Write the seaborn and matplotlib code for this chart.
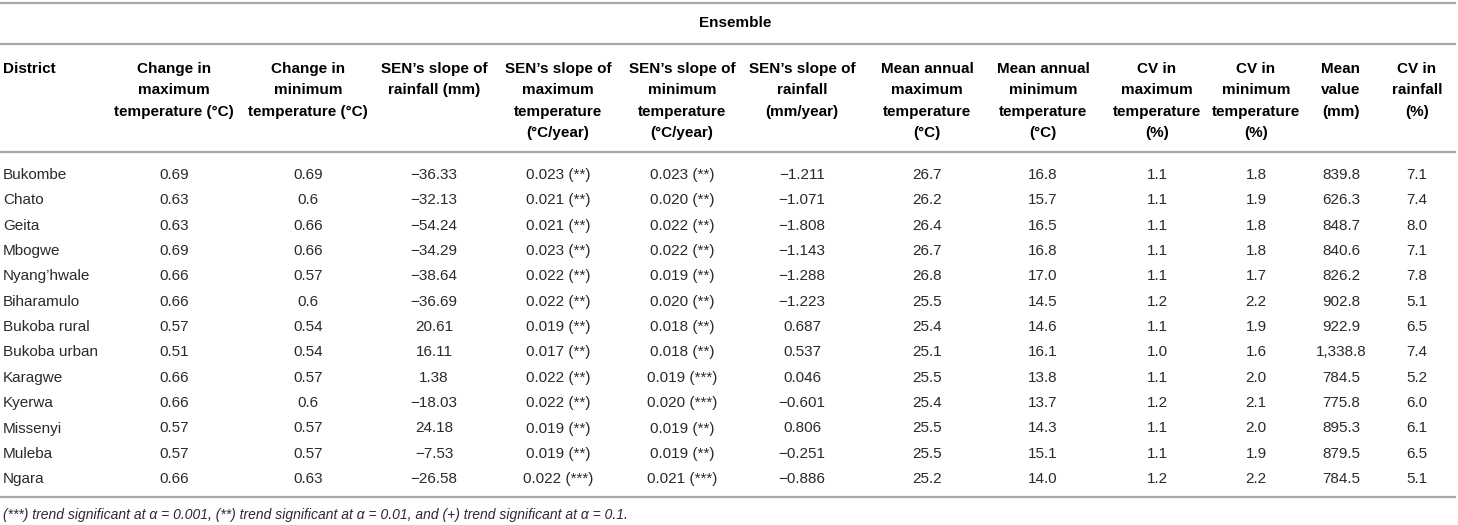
import matplotlib
matplotlib.use("Agg")
import matplotlib.pyplot as plt
import seaborn as sns

# table values
districts = ["Bukombe", "Chato", "Geita", "Mbogwe", "Nyang\u2019hwale", "Biharamulo",
             "Bukoba rural", "Bukoba urban", "Karagwe", "Kyerwa", "Missenyi", "Muleba", "Ngara"]
chg_max = [0.69, 0.63, 0.63, 0.69, 0.66, 0.66, 0.57, 0.51, 0.66, 0.66, 0.57, 0.57, 0.66]
chg_min = [0.69, 0.6, 0.66, 0.66, 0.57, 0.6, 0.54, 0.54, 0.57, 0.6, 0.57, 0.57, 0.63]
sen_rain = [-36.33, -32.13, -54.24, -34.29, -38.64, -36.69, 20.61, 16.11, 1.38, -18.03, 24.18, -7.53, -26.58]
sen_max = [0.023, 0.021, 0.021, 0.023, 0.022, 0.022, 0.019, 0.017, 0.022, 0.022, 0.019, 0.019, 0.022]
sig_max = ["**"] * 12 + ["***"]
sen_min = [0.023, 0.020, 0.022, 0.022, 0.019, 0.020, 0.018, 0.018, 0.019, 0.020, 0.019, 0.019, 0.021]
sig_min = ["**"] * 8 + ["***", "***", "**", "**", "***"]
sen_rain_yr = [-1.211, -1.071, -1.808, -1.143, -1.288, -1.223, 0.687, 0.537, 0.046, -0.601, 0.806, -0.251, -0.886]
mean_max = [26.7, 26.2, 26.4, 26.7, 26.8, 25.5, 25.4, 25.1, 25.5, 25.4, 25.5, 25.5, 25.2]
mean_min = [16.8, 15.7, 16.5, 16.8, 17.0, 14.5, 14.6, 16.1, 13.8, 13.7, 14.3, 15.1, 14.0]
cv_max = [1.1, 1.1, 1.1, 1.1, 1.1, 1.2, 1.1, 1.0, 1.1, 1.2, 1.1, 1.1, 1.2]
cv_min = [1.8, 1.9, 1.8, 1.8, 1.7, 2.2, 1.9, 1.6, 2.0, 2.1, 2.0, 1.9, 2.2]
mean_rain = [839.8, 626.3, 848.7, 840.6, 826.2, 902.8, 922.9, 1338.8, 784.5, 775.8, 895.3, 879.5, 784.5]
cv_rain = [7.1, 7.4, 8.0, 7.1, 7.8, 5.1, 6.5, 7.4, 5.2, 6.0, 6.1, 6.5, 5.1]

headers = [
    "District",
    "Change in\nmaximum\ntemperature (\u00b0C)",
    "Change in\nminimum\ntemperature (\u00b0C)",
    "SEN\u2019s slope of\nrainfall (mm)",
    "SEN\u2019s slope of\nmaximum\ntemperature\n(\u00b0C/year)",
    "SEN\u2019s slope of\nminimum\ntemperature\n(\u00b0C/year)",
    "SEN\u2019s slope of\nrainfall\n(mm/year)",
    "Mean annual\nmaximum\ntemperature\n(\u00b0C)",
    "Mean annual\nminimum\ntemperature\n(\u00b0C)",
    "CV in\nmaximum\ntemperature\n(%)",
    "CV in\nminimum\ntemperature\n(%)",
    "Mean\nvalue\n(mm)",
    "CV in\nrainfall\n(%)",
]
footnote = ("(***) trend significant at \u03b1 = 0.001, (**) trend significant at \u03b1 = 0.01, "
            "and (+) trend significant at \u03b1 = 0.1.")


def minus(s):
    return s.replace("-", "\u2212")


columns = [
    districts,
    [f"{v:g}" for v in chg_max],
    [f"{v:g}" for v in chg_min],
    [minus(f"{v:.2f}") for v in sen_rain],
    [f"{v:.3f} ({s})" for v, s in zip(sen_max, sig_max)],
    [f"{v:.3f} ({s})" for v, s in zip(sen_min, sig_min)],
    [minus(f"{v:.3f}") for v in sen_rain_yr],
    [f"{v:.1f}" for v in mean_max],
    [f"{v:.1f}" for v in mean_min],
    [f"{v:.1f}" for v in cv_max],
    [f"{v:.1f}" for v in cv_min],
    [f"{v:,.1f}" for v in mean_rain],
    [f"{v:.1f}" for v in cv_rain],
]

sns.set_style("white")
plt.rcParams["font.family"] = ["Liberation Sans", "DejaVu Sans"]

fig = plt.figure(figsize=(14.58, 5.25), dpi=100)
ax = fig.add_axes([0, 0, 1, 1])
ax.set_xlim(0, 1458)
ax.set_ylim(525, 0)
ax.axis("off")

# layout (pixels)
col_x = [3, 174, 308, 434, 558, 682, 802, 927, 1043, 1157, 1256, 1341, 1417]
row_y0, row_dy = 175, 25.35
fs = 11
line_col = "#a8a8a8"
txt_col = "#2a2a2a"

for y in [3, 44, 152, 497]:
    ax.plot([0, 1456], [y, y], color=line_col, lw=1.6, solid_capstyle="butt")

ax.text(735, 23, "Ensemble", ha="center", va="center", fontsize=fs, fontweight="bold", color="black")

for i, (x, h) in enumerate(zip(col_x, headers)):
    ax.text(x, 62, h, ha="left" if i == 0 else "center", va="top", fontsize=fs,
            fontweight="bold", linespacing=1.66, multialignment="left" if i == 0 else "center",
            color="black")

for i, (x, col) in enumerate(zip(col_x, columns)):
    for r, val in enumerate(col):
        ax.text(x, row_y0 + r * row_dy, val, ha="left" if i == 0 else "center", va="center",
                fontsize=fs, color=txt_col)

ax.text(3, 515, footnote, ha="left", va="center", fontsize=10, style="italic", color=txt_col)

fig.savefig("out.png", dpi=100)
